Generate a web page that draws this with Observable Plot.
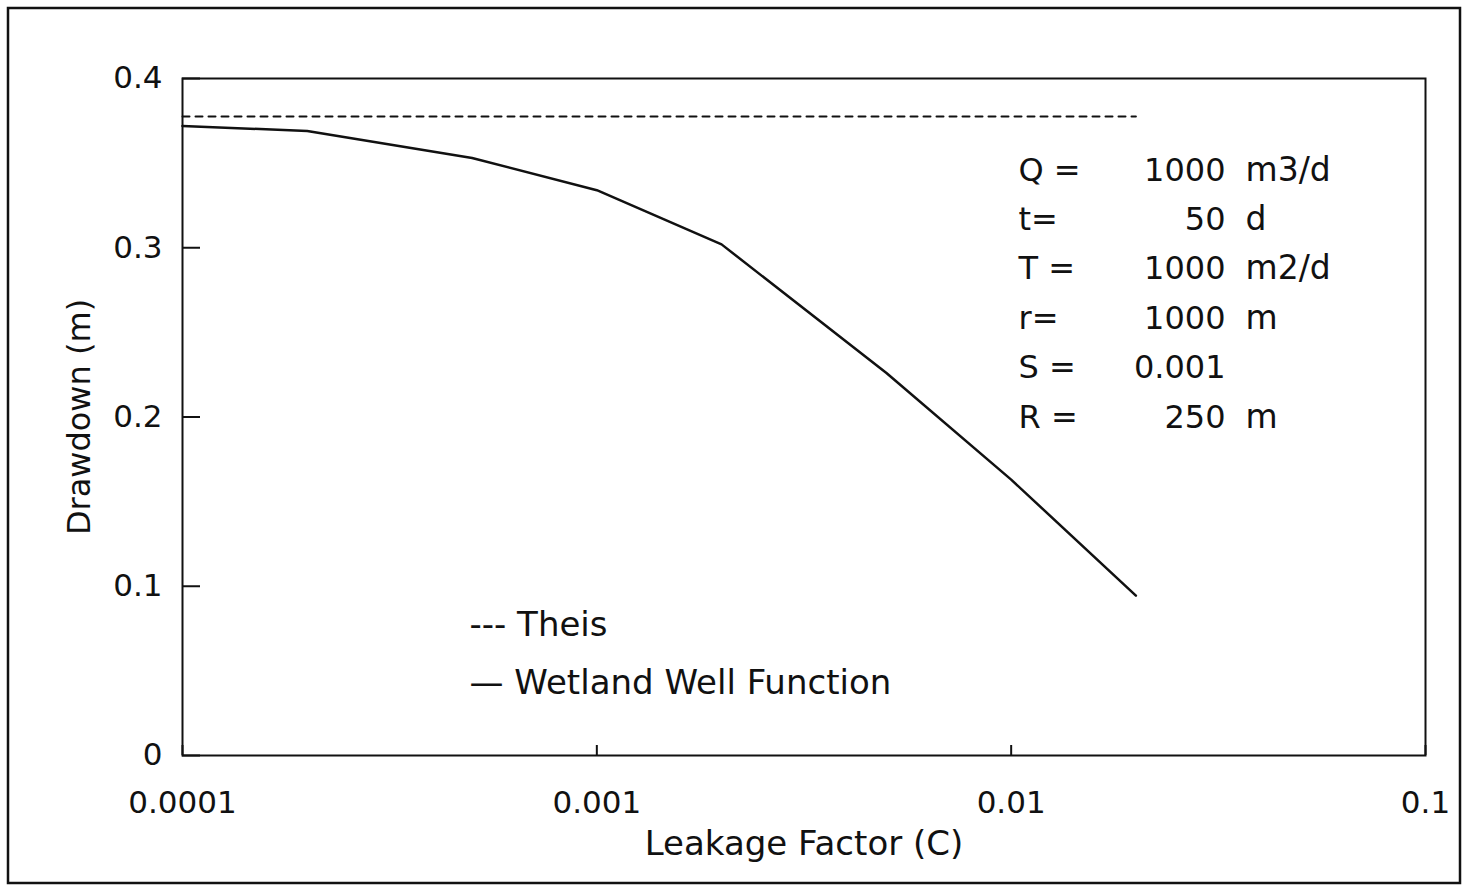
<!DOCTYPE html>
<html>
<head>
<meta charset="utf-8">
<script src="https://cdn.jsdelivr.net/npm/d3@7"></script>
<script src="https://cdn.jsdelivr.net/npm/@observablehq/plot@0.6"></script>
<style>
  html, body { margin: 0; padding: 0; background: #fff; }
</style>
</head>
<body>
<div id="chart"></div>
<script>
// ---- Data ----
const wetlandC = [0.0001, 0.0002, 0.0005, 0.001, 0.002, 0.005, 0.01, 0.02];
const wetlandDrawdown = [0.372, 0.369, 0.353, 0.334, 0.302, 0.226, 0.163, 0.0945];
const theisC = [0.0001, 0.02];
const theisDrawdown = [0.3775, 0.3775];

const xTicks = [0.0001, 0.001, 0.01, 0.1];
const xTickLabels = ["0.0001", "0.001", "0.01", "0.1"];
const yTicks = [0, 0.1, 0.2, 0.3, 0.4];
const yTickLabels = ["0", "0.1", "0.2", "0.3", "0.4"];

const xTitle = "Leakage Factor (C)";
const yTitle = "Drawdown (m)";

const paramNames = ["Q =", "t=", "T =", "r=", "S =", "R ="];
const paramValues = ["1000", "50", "1000", "1000", "0.001", "250"];
const paramUnits = ["m3/d", "d", "m2/d", "m", "", "m"];

const legendLabels = ["--- Theis", "\u2014 Wetland Well Function"];

// ---- Build tables ----
const wetland = wetlandC.map((c, i) => ({c, s: wetlandDrawdown[i]}));
const theis = theisC.map((c, i) => ({c, s: theisDrawdown[i]}));

const W = 1468, H = 891;
const mL = 182, mR = 43, mT = 78, mB = 136;
const frameW = W - mL - mR, frameH = H - mT - mB;
const FONT = "DejaVu Sans";

// outer page border (decoration drawn through a Plot render-function mark)
function outerBorder(index, scales, values, dims) {
  return d3.create("svg:rect")
    .attr("x", 8).attr("y", 8)
    .attr("width", dims.width - 16).attr("height", dims.height - 16)
    .attr("fill", "none").attr("stroke", "#111").attr("stroke-width", 2.5)
    .node();
}

const chart = Plot.plot({
  width: W,
  height: H,
  marginLeft: mL,
  marginRight: mR,
  marginTop: mT,
  marginBottom: mB,
  style: {fontFamily: FONT, fontSize: "30px", color: "#111", background: "#fff"},
  x: {type: "log", domain: [0.0001, 0.1], axis: null},
  y: {type: "linear", domain: [0, 0.4], axis: null},
  marks: [
    outerBorder,
    Plot.frame({stroke: "#111", strokeWidth: 2}),
    // inward ticks
    Plot.ruleX(xTicks, {x: d => d, insetTop: frameH - 10, stroke: "#111", strokeWidth: 2}),
    Plot.ruleY(yTicks, {y: d => d, insetRight: frameW - 18, stroke: "#111", strokeWidth: 2}),
    // tick labels
    Plot.axisX(xTicks, {
      tickSize: 0, tickPadding: 35, label: null, fontSize: 31,
      tickFormat: d => xTickLabels[xTicks.indexOf(d)]
    }),
    Plot.axisY(yTicks, {
      tickSize: 0, tickPadding: 20, label: null, fontSize: 31,
      tickFormat: d => yTickLabels[yTicks.indexOf(d)]
    }),
    // axis titles
    Plot.text([xTitle], {text: d => d, frameAnchor: "bottom", dy: 99, fontSize: 34, fill: "#111"}),
    Plot.text([yTitle], {text: d => d, frameAnchor: "left", textAnchor: "middle", dx: -103, rotate: -90, fontSize: 32, fill: "#111"}),
    // series
    Plot.line(theis, {x: "c", y: "s", stroke: "#111", strokeWidth: 2, strokeDasharray: "7,6"}),
    Plot.line(wetland, {x: "c", y: "s", stroke: "#111", strokeWidth: 2.5}),
    // parameter block
    Plot.text([paramNames.join("\n")], {
      text: d => d, frameAnchor: "top-left", textAnchor: "start", lineAnchor: "top",
      dx: 836, dy: 67, fontSize: 32, lineHeight: 1.544, fill: "#111"
    }),
    Plot.text([paramValues.join("\n")], {
      text: d => d, frameAnchor: "top-left", textAnchor: "end", lineAnchor: "top",
      dx: 1043, dy: 67, fontSize: 32, lineHeight: 1.544, fill: "#111"
    }),
    Plot.text([paramUnits.join("\n")], {
      text: d => d, frameAnchor: "top-left", textAnchor: "start", lineAnchor: "top",
      dx: 1063, dy: 67, fontSize: 33, lineHeight: 1.497, fill: "#111"
    }),
    // legend
    Plot.text([legendLabels.join("\n")], {
      text: d => d, frameAnchor: "top-left", textAnchor: "start", lineAnchor: "top",
      dx: 287, dy: 516, fontSize: 34, lineHeight: 1.706, fill: "#111"
    })
  ]
});

document.getElementById("chart").appendChild(chart);
</script>
</body>
</html>
